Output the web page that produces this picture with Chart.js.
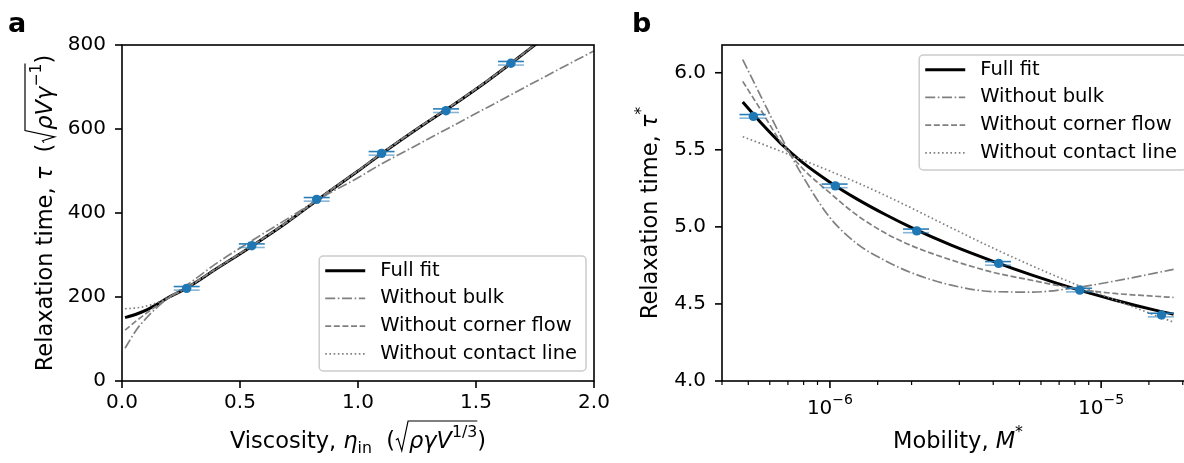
<!DOCTYPE html>
<html>
<head>
<meta charset="utf-8">
<script src="https://cdn.jsdelivr.net/npm/chart.js@4.4.0/dist/chart.umd.min.js"></script>
<style>
html, body { margin: 0; padding: 0; background: #fff; overflow: hidden; width: 1184px; height: 463px; }
.panel { position: absolute; top: 0; width: 640px; height: 463px; }
#wa { left: 0; }
#wb { left: 600px; }
</style>
</head>
<body>
<div class="panel" id="wa"><canvas id="chartA" width="640" height="463"></canvas></div>
<div class="panel" id="wb"><canvas id="chartB" width="640" height="463"></canvas></div>
<script>
// ---- panel a : relaxation time vs viscosity ----
const aPointX = [0.274, 0.550, 0.825, 1.100, 1.373, 1.648];
const aPointY = [220.6, 322.2, 432.5, 542.0, 643.6, 756.5];
const aPointErr = [0.055, 0.055, 0.055, 0.055, 0.055, 0.055];

const aCurveX = [0.013, 0.06, 0.1, 0.15, 0.2, 0.27, 0.4, 0.55, 0.7, 0.85, 1.0, 1.1, 1.25, 1.4, 1.55, 1.65, 1.8, 2.0];
const aFullFit = [151, 159, 168, 183, 200, 220, 267, 321, 378, 440, 500, 541, 600, 656, 715, 757, 822];
const aNoBulk = [78, 121, 148, 176, 199, 226, 280, 334, 386, 438, 484, 517, 562, 607, 652, 682, 727, 786];
const aNoCorner = [121, 143, 160, 180, 199, 221, 268, 322, 379, 441, 501, 542, 601, 657, 716, 758, 823];
const aNoContact = [172, 174, 178, 187, 200, 220, 267, 321, 378, 440, 500, 541, 600, 656, 715, 757, 822];

// ---- panel b : relaxation time vs mobility ----
const bPointX = [5.22e-7, 1.047e-6, 2.09e-6, 4.19e-6, 8.34e-6, 1.67e-5];
const bPointY = [5.717, 5.266, 4.974, 4.763, 4.590, 4.428];
const bPointErr = [5.8e-8, 1.15e-7, 2.3e-7, 4.6e-7, 9.2e-7, 1.84e-6];

const bCurveX = [4.77e-7, 5.6e-7, 6.6e-7, 7.9e-7, 1.0e-6, 1.26e-6, 1.6e-6, 2.0e-6, 2.8e-6, 4.0e-6, 5.6e-6, 7.9e-6, 1.12e-5, 1.58e-5, 1.85e-5];
const bFullFit = [5.81, 5.67, 5.54, 5.42, 5.29, 5.18, 5.08, 4.995, 4.881, 4.776, 4.685, 4.601, 4.526, 4.46, 4.433];
const bNoBulk = [6.085, 5.837, 5.585, 5.335, 5.06, 4.89, 4.78, 4.702, 4.622, 4.58, 4.577, 4.603, 4.648, 4.70, 4.724];
const bNoCorner = [5.944, 5.75, 5.548, 5.382, 5.22, 5.075, 4.96, 4.878, 4.785, 4.705, 4.652, 4.601, 4.568, 4.55, 4.542];
const bNoContact = [5.585, 5.539, 5.49, 5.435, 5.362, 5.287, 5.204, 5.122, 4.994, 4.862, 4.745, 4.633, 4.527, 4.427, 4.382];

const seriesLabels = ['Full fit', 'Without bulk', 'Without corner flow', 'Without contact line'];

Chart.defaults.font.family = "'DejaVu Sans', sans-serif";
Chart.defaults.color = '#000';

const FONT = "'DejaVu Sans'";
const TITLE_SIZE = 22.5;
const pairs = (xs, ys) => ys.map((y, i) => ({ x: xs[i], y: y }));

function curve(label, xs, ys, color, width, dash, order) {
   return {
      label: label,
      data: pairs(xs, ys),
      borderColor: color,
      borderWidth: width,
      borderDash: dash,
      pointRadius: 0,
      cubicInterpolationMode: 'monotone',
      fill: false,
      order: order,
   };
}

function points(xs, ys, errs) {
   return {
      data: pairs(xs, ys),
      xErr: errs,
      showLine: false,
      pointRadius: 4.7,
      pointBackgroundColor: '#1f77b4',
      pointBorderWidth: 0,
      order: 0,
   };
}

function curveSets(xs, full, bulk, corner, contact) {
   return [
      curve(seriesLabels[0], xs, full, '#000000', 3, [], 4),
      curve(seriesLabels[1], xs, bulk, '#808080', 1.7, [10, 2.6, 1.6, 2.6], 3),
      curve(seriesLabels[2], xs, corner, '#808080', 1.7, [6, 2.6], 2),
      curve(seriesLabels[3], xs, contact, '#808080', 1.7, [1.6, 2.6], 1),
   ];
}

// rich text, enough for the mathtext axis labels
function fontFor(style, s) {
   const small = style === 'sup' || style === 'sub';
   return (style === 'i' ? 'italic ' : '') + (small ? s * 0.7 : s) + 'px ' + FONT;
}

function drawRich(ctx, parts, s, cx, cy, rot) {
   const items = [];
   let x = 0, radStart = 0;
   for (const [t, st] of parts) {
      if (st === 'rad') { radStart = x; x += 0.62 * s; continue; }
      if (st === 'end') { items.push({ over: [radStart, x] }); continue; }
      const font = fontFor(st, s);
      ctx.font = font;
      const w = ctx.measureText(t).width;
      const dy = st === 'sup' ? -0.5 * s : st === 'sub' ? 0.22 * s : 0;
      items.push({ t: t, font: font, x: x, dy: dy });
      x += w;
   }
   const off = -x / 2;
   ctx.save();
   ctx.translate(cx, cy);
   if (rot) ctx.rotate(rot);
   ctx.fillStyle = '#000';
   ctx.strokeStyle = '#000';
   ctx.textBaseline = 'alphabetic';
   ctx.textAlign = 'left';
   for (const it of items) {
      if (it.over) {
         const r = it.over[0] + off, e = it.over[1] + off;
         ctx.lineWidth = 1.2;
         ctx.beginPath();
         ctx.moveTo(r + 0.04 * s, -0.36 * s);
         ctx.lineTo(r + 0.13 * s, -0.42 * s);
         ctx.lineTo(r + 0.30 * s, 0.12 * s);
         ctx.lineTo(r + 0.58 * s, -1.2 * s);
         ctx.lineTo(e, -1.2 * s);
         ctx.stroke();
         continue;
      }
      ctx.font = it.font;
      ctx.fillText(it.t, it.x + off, it.dy);
   }
   ctx.restore();
}

function isDecade(v) {
   const l = Math.log10(v);
   return Math.abs(l - Math.round(l)) < 1e-6;
}

// error bars, drawn just before the marker dataset
const errorBars = {
   id: 'errorBars',
   beforeDatasetDraw(chart, args) {
      const ds = chart.data.datasets[args.index];
      if (!ds.xErr) return;
      const ctx = chart.ctx, xs = chart.scales.x, ys = chart.scales.y;
      ctx.save();
      ctx.lineWidth = 1.6;
      ds.data.forEach((p, i) => {
         const x0 = xs.getPixelForValue(p.x - ds.xErr[i]);
         const x1 = xs.getPixelForValue(p.x + ds.xErr[i]);
         const py = ys.getPixelForValue(p.y);
         ctx.strokeStyle = 'rgba(31,119,180,0.95)';
         ctx.beginPath(); ctx.moveTo(x0, py - 1.8); ctx.lineTo(x1, py - 1.8); ctx.stroke();
         ctx.strokeStyle = 'rgba(31,119,180,0.55)';
         ctx.beginPath(); ctx.moveTo(x0, py + 1.8); ctx.lineTo(x1, py + 1.8); ctx.stroke();
      });
      ctx.restore();
   }
};

// spines and tick marks, matplotlib style
const mplAxes = {
   id: 'mplAxes',
   afterDraw(chart) {
      const ctx = chart.ctx, ca = chart.chartArea;
      ctx.save();
      ctx.strokeStyle = '#000';
      for (const id of ['x', 'y']) {
         const sc = chart.scales[id];
         for (const t of sc.ticks) {
            if (t.value < sc.min * 0.999999 || t.value > sc.max * 1.000001) continue;
            const major = sc.type !== 'logarithmic' || isDecade(t.value);
            const len = major ? 7 : 4;
            const p = sc.getPixelForValue(t.value);
            ctx.lineWidth = major ? 1.6 : 1.2;
            ctx.beginPath();
            if (id === 'x') { ctx.moveTo(p, ca.bottom); ctx.lineTo(p, ca.bottom + len); }
            else { ctx.moveTo(ca.left - len, p); ctx.lineTo(ca.left, p); }
            ctx.stroke();
         }
      }
      ctx.lineWidth = 1.6;
      ctx.strokeRect(ca.left, ca.top, ca.right - ca.left, ca.bottom - ca.top);
      ctx.restore();
   }
};

// legend in a rounded box inside the axes
const mplLegend = {
   id: 'mplLegend',
   afterDraw(chart, args, opts) {
      const ctx = chart.ctx, ca = chart.chartArea;
      const items = chart.data.datasets.filter(d => d.label);
      ctx.save();
      ctx.font = opts.size + 'px ' + FONT;
      const textW = Math.max(...items.map(d => ctx.measureText(d.label).width));
      const w = 61 + textW + 9, h = 115;
      const left = ca.right - 8 - w;
      const top = opts.corner === 'upper' ? ca.top + 10 : ca.bottom - 10 - h;
      ctx.beginPath();
      ctx.roundRect(left, top, w, h, 4);
      ctx.fillStyle = 'rgba(255,255,255,0.8)';
      ctx.fill();
      ctx.strokeStyle = '#cccccc';
      ctx.lineWidth = 1.5;
      ctx.stroke();
      items.forEach((d, i) => {
         const y = top + 14.7 + i * 27.7;
         ctx.beginPath();
         ctx.setLineDash(d.borderDash || []);
         ctx.strokeStyle = d.borderColor;
         ctx.lineWidth = d.borderWidth;
         ctx.moveTo(left + 6, y);
         ctx.lineTo(left + 46, y);
         ctx.stroke();
         ctx.setLineDash([]);
         ctx.fillStyle = '#000';
         ctx.textBaseline = 'middle';
         ctx.fillText(d.label, left + 61, y);
      });
      ctx.restore();
   }
};

// axis titles, panel letters and log tick labels
const mplText = {
   id: 'mplText',
   afterDraw(chart, args, o) {
      const ctx = chart.ctx, ca = chart.chartArea;
      const cx = (ca.left + ca.right) / 2, cy = (ca.top + ca.bottom) / 2;
      drawRich(ctx, o.xTitle, TITLE_SIZE, cx, ca.bottom + 67, 0);
      drawRich(ctx, o.yTitle, TITLE_SIZE, ca.left - o.yTitleGap, cy, -Math.PI / 2);
      ctx.save();
      ctx.font = 'bold 27px ' + FONT;
      ctx.fillStyle = '#000';
      ctx.textBaseline = 'alphabetic';
      ctx.fillText(o.panel, o.panelX, 32);
      ctx.restore();
      if (o.logLabels) {
         const sc = chart.scales.x;
         sc.ticks.filter(t => isDecade(t.value) && t.value >= sc.min && t.value <= sc.max).forEach(t => {
            const e = Math.round(Math.log10(t.value));
            drawRich(ctx, [['10', ''], [(e < 0 ? '\u2212' : '') + Math.abs(e), 'sup']], 20,
               sc.getPixelForValue(t.value), ca.bottom + 33, 0);
         });
      }
   }
};

function baseOptions(xScale, yScale, legendCorner, text) {
   return {
      responsive: false,
      animation: false,
      devicePixelRatio: 1,
      events: [],
      layout: { padding: { left: 0, top: 45, right: 46, bottom: 0 } },
      plugins: {
         legend: { display: false },
         tooltip: { enabled: false },
         mplLegend: { corner: legendCorner, size: 19.5 },
         mplText: text,
      },
      scales: { x: xScale, y: yScale },
   };
}

const tickFont = { size: 20, family: FONT };
const noGrid = { display: false, drawTicks: false };
const plugins = [errorBars, mplAxes, mplLegend, mplText];

new Chart(document.getElementById('chartA'), {
   type: 'line',
   data: {
      datasets: [
         ...curveSets(aCurveX, aFullFit, aNoBulk, aNoCorner, aNoContact),
         points(aPointX, aPointY, aPointErr),
      ],
   },
   options: baseOptions(
      {
         type: 'linear', min: 0, max: 2,
         grid: noGrid, border: { display: false },
         ticks: { stepSize: 0.5, padding: 10, font: tickFont, color: '#000', maxRotation: 0, autoSkip: false,
            callback: v => v.toFixed(1) },
         afterFit: s => { s.height = 82; },
      },
      {
         type: 'linear', min: 0, max: 800,
         grid: noGrid, border: { display: false },
         ticks: { stepSize: 200, padding: 16, font: tickFont, color: '#000', callback: v => String(v) },
         afterFit: s => { s.width = 122; },
      },
      'lower',
      {
         panel: 'a', panelX: 8, yTitleGap: 70,
         xTitle: [['Viscosity, ', ''], ['\u03b7', 'i'], ['in', 'sub'], ['  (', ''], ['', 'rad'],
            ['\u03c1\u03b3V', 'i'], ['1/3', 'sup'], ['', 'end'], [')', '']],
         yTitle: [['Relaxation time, ', ''], ['\u03c4', 'i'], ['  (', ''], ['', 'rad'],
            ['\u03c1V\u03b3', 'i'], ['\u22121', 'sup'], ['', 'end'], [')', '']],
      }
   ),
   plugins: plugins,
});

new Chart(document.getElementById('chartB'), {
   type: 'line',
   data: {
      datasets: [
         ...curveSets(bCurveX, bFullFit, bNoBulk, bNoCorner, bNoContact),
         points(bPointX, bPointY, bPointErr),
      ],
   },
   options: baseOptions(
      {
         type: 'logarithmic', min: 4.0e-7, max: 2.2e-5,
         grid: noGrid, border: { display: false },
         ticks: { display: false },
         afterFit: s => { s.height = 82; },
      },
      {
         type: 'linear', min: 4.0, max: 6.18,
         grid: noGrid, border: { display: false },
         ticks: { stepSize: 0.5, includeBounds: false, padding: 16, font: tickFont, color: '#000',
            callback: v => v.toFixed(1) },
         afterFit: s => { s.width = 122; },
      },
      'upper',
      {
         panel: 'b', panelX: 32, yTitleGap: 65, logLabels: true,
         xTitle: [['Mobility, ', ''], ['M', 'i'], ['*', 'sup']],
         yTitle: [['Relaxation time, ', ''], ['\u03c4', 'i'], ['*', 'sup']],
      }
   ),
   plugins: plugins,
});
</script>
</body>
</html>
